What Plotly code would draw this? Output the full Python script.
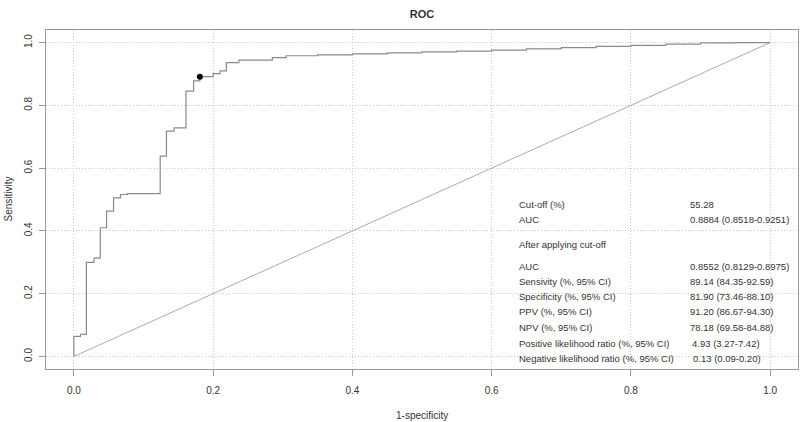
import plotly.graph_objects as go

# ROC curve step vertices (1-specificity, sensitivity)
fpr = [0.0, 0.0, 0.0096, 0.018, 0.029, 0.038, 0.047, 0.057, 0.067, 0.077,
       0.124, 0.133, 0.144, 0.161, 0.172, 0.181, 0.200, 0.210, 0.219, 0.237,
       0.285, 0.305, 0.35, 0.40, 0.45, 0.50, 0.55, 0.60, 0.65, 0.70,
       0.75, 0.80, 0.85, 0.90, 0.95, 1.0]
tpr = [0.0, 0.064, 0.070, 0.300, 0.313, 0.410, 0.463, 0.505, 0.516, 0.519,
       0.638, 0.718, 0.728, 0.845, 0.878, 0.8914, 0.901, 0.910, 0.936, 0.944,
       0.952, 0.958, 0.961, 0.964, 0.967, 0.970, 0.973, 0.976, 0.980, 0.984,
       0.988, 0.991, 0.995, 0.999, 1.0, 1.0]

ref_x = [0, 1]
ref_y = [0, 1]

cutoff_x = [0.181]
cutoff_y = [0.8914]

tick_vals = [0.0, 0.2, 0.4, 0.6, 0.8, 1.0]
tick_text = ["0.0", "0.2", "0.4", "0.6", "0.8", "1.0"]

labels = ["Cut-off (%)", "AUC", "After applying cut-off", "AUC",
          "Sensivity (%, 95% CI)", "Specificity (%, 95% CI)",
          "PPV (%, 95% CI)", "NPV (%, 95% CI)",
          "Positive likelihood ratio (%, 95% CI)",
          "Negative likelihood ratio (%, 95% CI)"]
values = ["55.28", "0.8884 (0.8518-0.9251)", "", "0.8552 (0.8129-0.8975)",
          "89.14 (84.35-92.59)", "81.90 (73.46-88.10)", "91.20 (86.67-94.30)",
          "78.18 (69.58-84.88)", "4.93 (3.27-7.42)", "0.13 (0.09-0.20)"]
row_y = [0.4836, 0.4358, 0.356, 0.287, 0.240, 0.192, 0.144, 0.0934, 0.0424, -0.0054]
val_x = [0.882, 0.882, 0.882, 0.882, 0.882, 0.882, 0.882, 0.882, 0.885, 0.887]

FONT = "Liberation Sans, Arial, sans-serif"
TXT = "#333333"

fig = go.Figure()
fig.add_trace(go.Scatter(x=ref_x, y=ref_y, mode="lines",
                         line=dict(color="#ababab", width=1), hoverinfo="skip"))
fig.add_trace(go.Scatter(x=fpr, y=tpr, mode="lines", line_shape="hv",
                         line=dict(color="#8a8a8a", width=1.2)))
fig.add_trace(go.Scatter(x=cutoff_x, y=cutoff_y, mode="markers",
                         marker=dict(color="black", size=6)))

ann = []
for lab, val, y, vx in zip(labels, values, row_y, val_x):
    ann.append(dict(x=0.6365, y=y, xref="x", yref="y", text=lab, showarrow=False,
                    xanchor="left", yanchor="middle",
                    font=dict(family=FONT, size=9.5, color=TXT)))
    if val:
        ann.append(dict(x=vx, y=y, xref="x", yref="y", text=val, showarrow=False,
                        xanchor="left", yanchor="middle",
                        font=dict(family=FONT, size=9.5, color=TXT)))

ann.append(dict(x=0.5, y=0, xref="paper", yref="paper", text="1-specificity",
                showarrow=False, yshift=-46, xanchor="center", yanchor="middle",
                font=dict(family=FONT, size=10, color=TXT)))
ann.append(dict(x=0, y=0.5, xref="paper", yref="paper", text="Sensitivity",
                showarrow=False, xshift=-38, textangle=-90, xanchor="center",
                yanchor="middle", font=dict(family=FONT, size=10, color=TXT)))

axis_common = dict(
    tickvals=tick_vals, ticktext=tick_text, ticks="outside", ticklen=6,
    tickcolor="#999999", tickwidth=1, showline=True, linecolor="#999999",
    linewidth=1, mirror=True, showgrid=True, gridcolor="#c8c8c8",
    griddash="1px,2px", gridwidth=1, zeroline=False,
    tickfont=dict(family=FONT, size=10, color=TXT),
)

fig.update_layout(
    width=800, height=422,
    margin=dict(l=46, r=2, t=30, b=53),
    paper_bgcolor="white", plot_bgcolor="white",
    showlegend=False,
    title=dict(text="<b>ROC</b>", x=0.5, xref="paper", y=1 - 14 / 422,
               yref="container", xanchor="center", yanchor="middle",
               font=dict(family=FONT, size=11, color=TXT)),
    xaxis=dict(range=[-0.04, 1.04], ticklabelstandoff=6, **axis_common),
    yaxis=dict(range=[-0.04, 1.04], tickangle=-90, ticklabelstandoff=3,
               **axis_common),
    annotations=ann,
)

fig.write_html("out.html",
               config={"displayModeBar": False},
               post_script="document.body.style.margin='0';"
                           "document.body.style.overflow='hidden';")
